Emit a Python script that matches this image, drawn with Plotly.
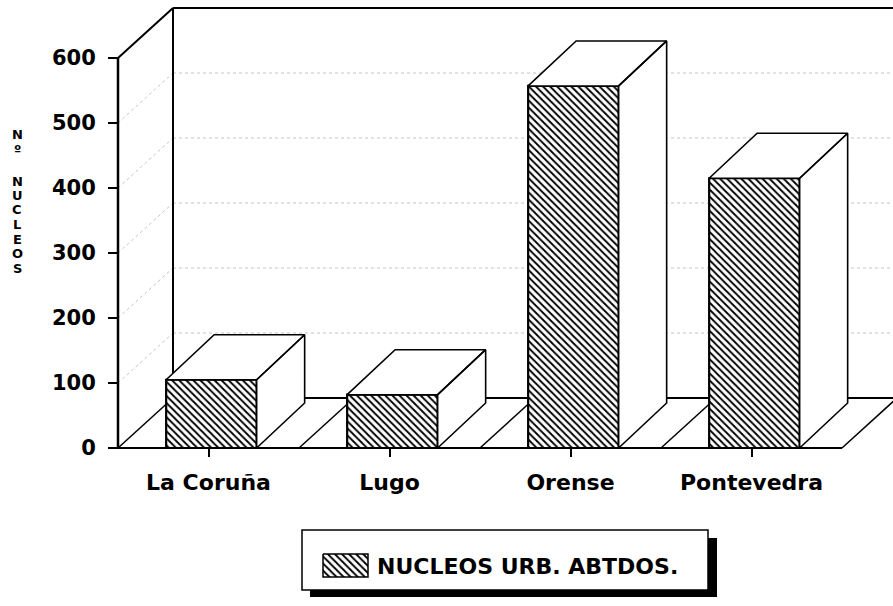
import plotly.graph_objects as go

# ---- data -------------------------------------------------------------
categories = ["La Coruña", "Lugo", "Orense", "Pontevedra"]
nucleos = [105, 82, 557, 415]
y_ticks = [0, 100, 200, 300, 400, 500, 600]
series_name = "NUCLEOS URB. ABTDOS."
y_title_top = ["N", "º"]
y_title_word = ["N", "U", "C", "L", "E", "O", "S"]

# ---- page / box geometry (pixels) -------------------------------------
W, H = 893, 606
X0_PX, Y0_PX = 118, 448          # front-left floor corner (value 0)
PX_PER_CAT = 181                 # distance between categories
PX_PER_VAL = 0.65                # pixels per unit of value
FLOOR_DX_PX, FLOOR_DY_PX = 55, 50
BAR_DX_PX, BAR_DY_PX = 48, 45
BAR_W, BAR_SHIFT = 0.5, 0.016
FONT = "DejaVu Sans"

# depth offsets in data units
fdx, fdy = FLOOR_DX_PX / PX_PER_CAT, FLOOR_DY_PX / PX_PER_VAL
bdx, bdy = BAR_DX_PX / PX_PER_CAT, BAR_DY_PX / PX_PER_VAL

x_left_px, y_bottom_px = 110, 466
x_lo = -0.5 - (X0_PX - x_left_px) / PX_PER_CAT
x_hi = -0.5 + (W - X0_PX) / PX_PER_CAT
y_lo = -(y_bottom_px - Y0_PX) / PX_PER_VAL
y_hi = Y0_PX / PX_PER_VAL
top_val = y_ticks[-1]
n = len(categories)

fig = go.Figure()

# ---- walls, floor and back-wall grid (drawn beneath the bars) ---------
def seg(x0, y0, x1, y1, width=2.0, color="black", dash="solid"):
    fig.add_shape(type="line", xref="x", yref="y", x0=x0, y0=y0, x1=x1, y1=y1,
                  line=dict(color=color, width=width, dash=dash), layer="below")

for v in y_ticks[1:-1]:
    seg(-0.5 + fdx, v + fdy, x_hi, v + fdy, 1, "#c4c4c4", "dot")
    seg(-0.5, v, -0.5 + fdx, v + fdy, 1, "#c4c4c4", "dot")

seg(-0.5, 0, -0.5, top_val, 2.5)                              # front value axis
seg(-0.5, top_val, -0.5 + fdx, top_val + fdy, 2)              # side wall top
seg(-0.5 + fdx, fdy, -0.5 + fdx, top_val + fdy, 2)            # back wall corner
seg(-0.5 + fdx, top_val + fdy, x_hi, top_val + fdy, 2)        # back wall top
seg(-0.5, 0, n - 0.5, 0, 2)                                   # floor front
seg(-0.5 + fdx, fdy, x_hi, fdy, 2)                            # floor back
for k in range(n + 1):
    b = k - 0.5
    seg(b, 0, b + fdx, fdy, 1.5)

# ---- bars: hatched front faces ---------------------------------------
xs = [i + BAR_SHIFT for i in range(n)]
fig.add_trace(go.Bar(
    x=xs, y=nucleos, width=BAR_W, name=series_name, showlegend=False,
    marker=dict(color="white", line=dict(color="black", width=2.2),
                pattern=dict(shape="\\", size=5, solidity=0.38,
                             fgcolor="black", bgcolor="white")),
    hoverinfo="skip",
))

# ---- bars: side and top faces ------------------------------------------
fx, fy = [], []
for xc, v in zip(xs, nucleos):
    a, b = xc - BAR_W / 2, xc + BAR_W / 2
    fx += [b, b, b + bdx, b + bdx, b, None]
    fy += [0, v, v + bdy, bdy, 0, None]
    fx += [a, b, b + bdx, a + bdx, a, None]
    fy += [v, v, v + bdy, v + bdy, v, None]
fig.add_trace(go.Scatter(
    x=fx, y=fy, mode="lines", fill="toself", fillcolor="white",
    line=dict(color="black", width=1.6), showlegend=False, hoverinfo="skip",
))

# ---- legend box with drop shadow --------------------------------------
def px_x(p):
    return p / W

def px_y(p):
    return 1 - p / H

fig.add_shape(type="rect", xref="paper", yref="paper", layer="below",
              x0=px_x(310), x1=px_x(717), y0=px_y(597), y1=px_y(538),
              fillcolor="black", line=dict(width=0))
fig.add_shape(type="rect", xref="paper", yref="paper", layer="below",
              x0=px_x(302), x1=px_x(708), y0=px_y(590), y1=px_y(530),
              fillcolor="white", line=dict(color="black", width=1.5))
sw = dict(x0=323, x1=368, y0=554, y1=577)
fig.add_trace(go.Scatter(
    x=[sw["x0"], sw["x1"], sw["x1"], sw["x0"], sw["x0"]],
    y=[sw["y0"], sw["y0"], sw["y1"], sw["y1"], sw["y0"]],
    xaxis="x2", yaxis="y2", mode="lines", fill="toself",
    line=dict(color="black", width=1.5),
    fillpattern=dict(shape="\\", size=5, solidity=0.38,
                     fgcolor="black", bgcolor="white"),
    showlegend=False, hoverinfo="skip",
))
fig.add_annotation(text=series_name, xref="paper", yref="paper",
                   x=px_x(375), y=px_y(566), xanchor="left", yanchor="middle",
                   showarrow=False,
                   font=dict(family=FONT, size=22, color="black", weight="bold"))

# ---- vertical axis title (stacked letters) -----------------------------
title_font = dict(family=FONT, size=13, color="black", weight="bold")
for k, ch in enumerate(y_title_top):
    fig.add_annotation(text=ch, xref="paper", yref="paper", x=px_x(17),
                       y=px_y(135 + 14 * k), xanchor="center", yanchor="middle",
                       showarrow=False, font=title_font)
for k, ch in enumerate(y_title_word):
    fig.add_annotation(text=ch, xref="paper", yref="paper", x=px_x(17),
                       y=px_y(181 + 14.5 * k), xanchor="center", yanchor="middle",
                       showarrow=False, font=title_font)

tick_font = dict(family=FONT, size=21, color="black", weight="bold")
fig.update_layout(
    width=W, height=H, template="none",
    margin=dict(l=0, r=0, t=0, b=0),
    paper_bgcolor="white", plot_bgcolor="rgba(0,0,0,0)",
    showlegend=False, hovermode=False,
    font=dict(family=FONT, color="black"),
    xaxis=dict(domain=[x_left_px / W, 1], range=[x_lo, x_hi],
               anchor="free", position=1 - Y0_PX / H,
               tickvals=list(range(n)), ticktext=categories,
               ticks="outside", ticklen=8, tickwidth=2, tickcolor="black",
               ticklabelstandoff=7,
               tickfont=dict(family=FONT, size=22, color="black", weight="bold"),
               showgrid=False, zeroline=False, showline=False,
               automargin=False, fixedrange=True),
    yaxis=dict(domain=[1 - y_bottom_px / H, 1], range=[y_lo, y_hi],
               anchor="free", position=X0_PX / W,
               tickvals=y_ticks, ticks="outside", ticklen=10, tickwidth=2,
               tickcolor="black", tickfont=tick_font, ticklabelstandoff=8,
               showgrid=False, zeroline=False, showline=False,
               automargin=False, fixedrange=True),
    xaxis2=dict(domain=[0, 1], range=[0, W], visible=False, anchor="y2",
                fixedrange=True),
    yaxis2=dict(domain=[0, 1], range=[H, 0], visible=False, anchor="x2",
                fixedrange=True),
)

fig.write_html("out.html", config={"displayModeBar": False})
